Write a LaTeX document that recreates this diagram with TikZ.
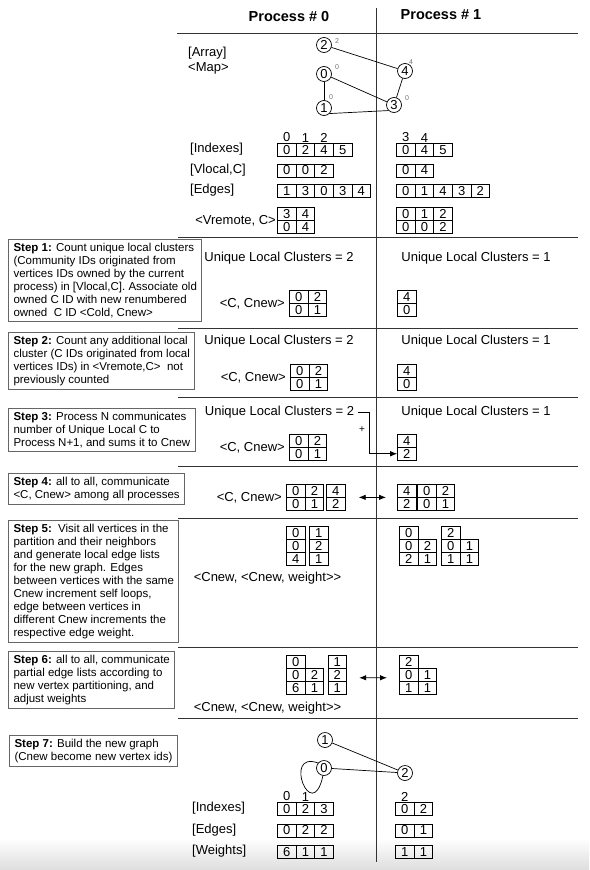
\documentclass[tikz,border=0pt]{standalone}
\usepackage{fontspec}
\setmainfont{Liberation Sans}
\usetikzlibrary{positioning,matrix,arrows.meta}

\begin{document}
\begin{tikzpicture}[x=1pt,y=-1pt,
	txt/.style={inner sep=0pt,font=\fontsize{13}{15}\selectfont},
	head/.style={inner sep=0pt,font=\fontsize{14.5}{16}\selectfont\bfseries},
	vtx/.style={circle,draw,line width=0.7pt,inner sep=0pt,minimum size=15pt,font=\fontsize{13}{13}\selectfont},
	sup/.style={inner sep=0pt,text=black!55,font=\fontsize{7}{7}\selectfont},
	cell/.style={draw,line width=0.7pt,minimum width=18.6pt,minimum height=12.8pt,inner sep=0pt,font=\fontsize{13}{13}\selectfont},
	arr/.style={matrix of nodes,anchor=north west,inner sep=0pt,column sep=-0.7pt,row sep=-0.7pt,nodes={cell}},
	stepbox/.style={draw=black!60,line width=1pt,anchor=north west,align=left,inner xsep=5pt,inner ysep=3.5pt,font=\fontsize{11.5}{13}\selectfont},
	sep/.style={line width=0.9pt,draw=black!80},
	link/.style={line width=0.7pt},
	tip/.style={line width=0.8pt,-{Latex[length=7pt,width=5.5pt]}},
	both/.style={line width=0.8pt,{Latex[length=7pt,width=5.5pt]}-{Latex[length=7pt,width=5.5pt]}}
]
\useasboundingbox (0,0) rectangle (589,870);
\shade[top color=white,bottom color=black!13] (0,838) rectangle (589,870);

\node[head](p0) at (289,17){Process \# 0};
\node[head](p1) at (441,15){Process \# 1};
\draw[sep] (177,33) -- (578,33);
\draw[sep] (376,8) -- (376,862);
\draw[sep] (178,237) -- (578,237);
\draw[sep] (178,328) -- (578,328);
\draw[sep] (178,397) -- (578,397);
\draw[sep] (178,466) -- (578,466);
\draw[sep] (178,518) -- (578,518);
\draw[sep] (178,647) -- (578,647);
\draw[sep] (178,718) -- (578,718);

\node[txt,anchor=west](lArr) at (188,53){[Array]};
\node[txt,anchor=west](lMap) at (188,68){<Map>};
\node[vtx](g2) at (324,45){2};
\node[vtx](g4) at (405,71){4};
\node[vtx](g0) at (324,74){0};
\node[vtx](g1) at (324,108){1};
\node[vtx](g3) at (394,105){3};
\node[sup](s2) at (337,41){2};
\node[sup](s4) at (411,62){4};
\node[sup](s0) at (337,67){0};
\node[sup](s1) at (331,97){0};
\node[sup](s3) at (407,98){0};

\matrix[arr](idx0) at (277,143){0 & 2 & 4 & 5\\};
\matrix[arr](idx1) at (396,143){0 & 4 & 5\\};
\matrix[arr](vlc0) at (277,163.5){0 & 0 & 2\\};
\matrix[arr](vlc1) at (396,163.5){0 & 4\\};
\matrix[arr](edg0) at (277,184){1 & 3 & 0 & 3 & 4\\};
\matrix[arr](edg1) at (396,184){0 & 1 & 4 & 3 & 2\\};
\matrix[arr](vrm0) at (277,207){3 & 4\\ 0 & 4\\};
\matrix[arr](vrm1) at (396,207){0 & 1 & 2\\ 0 & 0 & 2\\};
\node[txt,above=1pt of idx0-1-1](i0){0};
\node[txt,above=1pt of idx0-1-2](i1){1};
\node[txt,above=1pt of idx0-1-3](i2){2};
\node[txt,above=1pt of idx1-1-1](i3){3};
\node[txt,above=1pt of idx1-1-2](i4){4};
\node[txt,anchor=west](lIdx) at (190,149.5){[Indexes]};
\node[txt,anchor=west](lVlc) at (190,170){[Vlocal,C]};
\node[txt,anchor=west](lEdg) at (190,190.5){[Edges]};
\node[txt,left=1pt of vrm0](lVrm){<Vremote, C>};

\node[stepbox](st1) at (8,239){\textbf{Step 1:} Count unique local clusters\\(Community IDs originated from\\vertices IDs owned by the current\\process) in [Vlocal,C]. Associate old\\owned C ID with new renumbered\\owned\ \ C ID <Cold, Cnew>};
\node[txt](u1a) at (279,258){Unique Local Clusters = 2};
\node[txt](u1b) at (476,258){Unique Local Clusters = 1};
\matrix[arr](cn1a) at (289,290){0 & 2\\ 0 & 1\\};
\matrix[arr](cn1b) at (397,290){4\\ 0\\};
\node[txt,left=4pt of cn1a](k1){<C, Cnew>};

\node[stepbox](st2) at (8,332){\textbf{Step 2:} Count any additional local\\cluster (C IDs originated from local\\vertices IDs) in <Vremote,C>\ \ not\\previously counted};
\node[txt](u2a) at (279,341){Unique Local Clusters = 2};
\node[txt](u2b) at (476,341){Unique Local Clusters = 1};
\matrix[arr](cn2a) at (290,364){0 & 2\\ 0 & 1\\};
\matrix[arr](cn2b) at (397,364){4\\ 0\\};
\node[txt,left=4pt of cn2a](k2){<C, Cnew>};

\node[stepbox](st3) at (8,408){\textbf{Step 3:} Process N communicates\\number of Unique Local C to\\Process N+1, and sums it to Cnew};
\node[txt](u3a) at (279.5,412){Unique Local Clusters = 2};
\node[txt](u3b) at (476,412){Unique Local Clusters = 1};
\matrix[arr](cn3a) at (289,434){0 & 2\\ 0 & 1\\};
\matrix[arr](cn3b) at (397,434){4\\ 2\\};
\node[txt,left=4pt of cn3a](k3){<C, Cnew>};
\node[txt,font=\fontsize{10}{10}\selectfont](plus) at (362,430){+};
\coordinate(brk) at (369.5,412);

\node[stepbox](st4) at (8,473){\textbf{Step 4:} all to all, communicate\\<C, Cnew> among all processes};
\matrix[arr](cn4a) at (286,484){0 & 2\\ 0 & 1\\};
\matrix[arr](cn4b) at (326,484){4\\ 2\\};
\matrix[arr](cn4c) at (397,484){4\\ 2\\};
\matrix[arr](cn4d) at (417,484){0 & 2\\ 0 & 1\\};
\node[txt,left=4pt of cn4a](k4){<C, Cnew>};

\node[stepbox](st5) at (8,520){\textbf{Step 5:}\ \ Visit all vertices in the\\partition and their neighbors\\and generate local edge lists\\for the new graph. Edges\\between vertices with the same\\Cnew increment self loops,\\edge between vertices in\\different Cnew increments the\\respective edge weight.};
\matrix[arr](cn5a) at (286,526){0\\ 0\\ 4\\};
\matrix[arr](cn5b) at (309,526){1\\ 2\\ 1\\};
\matrix[arr](cn5c) at (399,526){0 & \\ 0 & 2\\ 2 & 1\\};
\matrix[arr](cn5d) at (441,526){2 & \\ 0 & 1\\ 1 & 1\\};
\node[txt](t5) at (267.5,578){<Cnew, <Cnew, weight>{}>};

\node[stepbox](st6) at (8,651){\textbf{Step 6:} all to all, communicate\\partial edge lists according to\\new vertex partitioning, and\\adjust weights};
\matrix[arr](cn6a) at (286,655){0 & \\ 0 & 2\\ 6 & 1\\};
\matrix[arr](cn6b) at (327.5,655){1\\ 2\\ 1\\};
\matrix[arr](cn6c) at (399,655){2 & \\ 0 & 1\\ 1 & 1\\};
\node[txt](t6) at (267.5,708){<Cnew, <Cnew, weight>{}>};

\node[stepbox](st7) at (9,735){\textbf{Step 7:} Build the new graph\\(Cnew become new vertex ids)};
\node[vtx](n1) at (325,740){1};
\node[vtx](n0) at (324,768){0};
\node[vtx](n2) at (405,773){2};
\matrix[arr](a7i) at (277,802){0 & 2 & 3\\};
\matrix[arr](a7e) at (277,823.5){0 & 2 & 2\\};
\matrix[arr](a7w) at (277,845){6 & 1 & 1\\};
\matrix[arr](b7i) at (395,802){0 & 2\\};
\matrix[arr](b7e) at (395,823.5){0 & 1\\};
\matrix[arr](b7w) at (395,845){1 & 1\\};
\node[txt,above=1pt of a7i-1-1](j0){0};
\node[txt,above=1pt of a7i-1-2](j1){1};
\node[txt,above=1pt of b7i-1-1](j2){2};
\node[txt,anchor=west](mIdx) at (192,808.5){[Indexes]};
\node[txt,anchor=west](mEdg) at (192,830){[Edges]};
\node[txt,anchor=west](mWgt) at (192,851.5){[Weights]};

\path[link](g2)edge(g4)
	(g0)edge(g3)
	(g0)edge(g1)
	(g1.south east)edge(g3.south west)
	(g4)edge(g3)
	(n1)edge(n2)
	(n0)edge(n2)
	(n0.140)edge[to path={.. controls (282,750) and (312,826) .. (\tikztotarget)}](n0.262);
\draw[tip]([xshift=4pt]u3a.east) -- (brk) |- (cn3b-2-1.west);
\draw[both]([xshift=13pt]cn4b.east) -- ([xshift=-11pt]cn4c.west);
\draw[both]([xshift=12pt,yshift=-3pt]cn6b.east) -- ([xshift=-12pt,yshift=-3pt]cn6c.west);

\end{tikzpicture}
\end{document}
